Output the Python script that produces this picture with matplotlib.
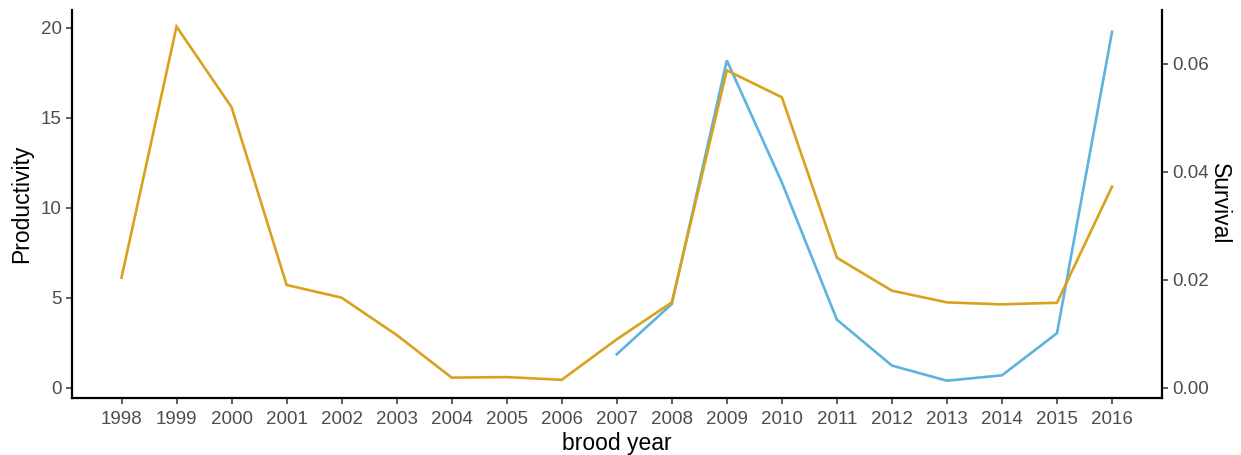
import matplotlib
matplotlib.use("Agg")
import matplotlib.pyplot as plt

# Brood years and the two series
years = list(range(1998, 2017))
productivity = [6.11, 20.06, 15.58, 5.71, 5.0, 2.93, 0.56, 0.59, 0.44, 2.69,
                4.74, 17.63, 16.13, 7.22, 5.39, 4.74, 4.63, 4.72, 11.17]
survival_years = list(range(2007, 2017))
survival = [0.0062, 0.0155, 0.0606, 0.0380, 0.0126, 0.0041, 0.0013, 0.0023,
            0.0101, 0.0659]

# Survival is shown on a secondary axis scaled by this factor
scale = 300.0

plt.rcParams["font.family"] = ["Liberation Sans", "DejaVu Sans"]

fig = plt.figure(figsize=(12.41, 4.55), dpi=100)
ax = fig.add_axes([0.058, 0.1253, 0.878, 0.8527])
ax2 = ax.twinx()

orange = "#D9A21C"
blue = "#5AB4DE"

ax.plot(years, productivity, color=orange, lw=1.9, zorder=3,
        solid_joinstyle="miter")
ax2.plot(survival_years, survival, color=blue, lw=1.9, zorder=2,
         solid_joinstyle="miter")
ax.set_zorder(ax2.get_zorder() + 1)
ax.patch.set_visible(False)

ymin, ymax = -0.57, 20.98
ax.set_ylim(ymin, ymax)
ax2.set_ylim(ymin / scale, ymax / scale)
ax.set_xlim(1997.1, 2016.9)

ax.set_xticks(years)
ax.set_xticklabels([str(y) for y in years])
ax.set_yticks([0, 5, 10, 15, 20])
ax2.set_yticks([0.0, 0.02, 0.04, 0.06])
ax2.set_yticklabels(["0.00", "0.02", "0.04", "0.06"])

tick_color = "#4D4D4D"
for a in (ax, ax2):
    a.tick_params(axis="both", labelsize=13.5, labelcolor=tick_color,
                  color="#333333", length=4.5, width=1.1, pad=3)
    a.spines["top"].set_visible(False)
    for side in ("left", "right", "bottom"):
        a.spines[side].set_linewidth(1.6)
        a.spines[side].set_color("black")
ax.tick_params(axis="x", pad=5)

ax.spines["right"].set_visible(False)
ax2.spines["left"].set_visible(False)
ax2.spines["bottom"].set_visible(False)

ax.set_xlabel("brood year", fontsize=16.5, labelpad=3)
ax.set_ylabel("Productivity", fontsize=16.5, labelpad=5)
ax2.set_ylabel("Survival", fontsize=16.5, rotation=270, labelpad=16)

fig.savefig("out.png", dpi=100, facecolor="white")
